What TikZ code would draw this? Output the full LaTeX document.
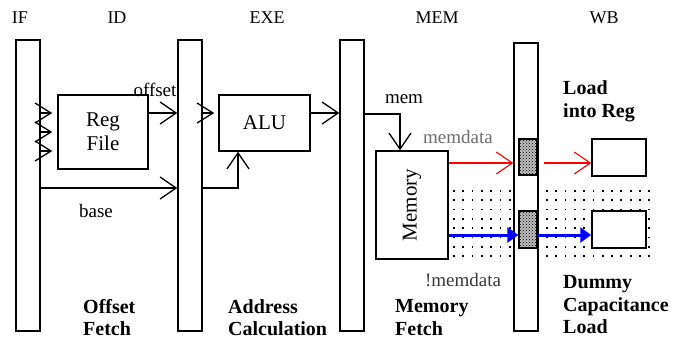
\documentclass[tikz,border=0pt]{standalone}
\usepackage{fontspec}
\setmainfont{Liberation Serif}
\usepackage{tikz}
\usetikzlibrary{arrows.meta,patterns}
\definecolor{cLine}{HTML}{000000}
\definecolor{cRed}{HTML}{FF0000}
\definecolor{cBlue}{HTML}{0000FF}
\definecolor{cMemd}{HTML}{6E6E6E}
\definecolor{cNmemd}{HTML}{3A3A3A}
\newcommand{\headfont}{\fontsize{18}{20}\selectfont}
\newcommand{\boxfont}{\fontsize{21}{24}\selectfont}
\newcommand{\lblfont}{\fontsize{19}{21}\selectfont}
\newcommand{\capfont}{\fontsize{20}{22.5}\selectfont\bfseries}
\tikzset{
  latch/.style={draw=cLine, line width=1.5pt, fill=white, minimum width=24pt,
                inner sep=0pt},
  unit/.style={draw=cLine, line width=1.5pt, fill=white, inner sep=0pt,
               font=\boxfont, align=center},
  tap/.style={draw=cLine, line width=1.2pt, fill=black!25, minimum width=18pt,
              inner sep=0pt, postaction={pattern=crosshatch dots}},
  head/.style={font=\headfont, inner sep=0pt},
  lbl/.style={font=\lblfont, inner sep=0pt},
  stagecap/.style={font=\capfont, inner sep=0pt, align=left, anchor=west},
  arr/.style={-{Straight Barb[length=16pt,width=22pt]}, line width=1.3pt, cLine},
  inarr/.style={-{Straight Barb[length=16pt,width=20pt]}, line width=1.3pt, cLine},
  redarr/.style={-{Straight Barb[length=16pt,width=22pt]}, line width=1.1pt, cRed},
  bluearr/.style={-{Triangle[length=11pt,width=15pt]}, line width=3pt, cBlue}
}

\begin{document}
\begin{tikzpicture}[x=1pt,y=-1pt]
\useasboundingbox (0,0) rectangle (694,343);
% ----- dotted load region -----
\foreach \x in {453,462.3,...,657} \foreach \y in {190,199.3,...,258}
  \fill (\x,\y) rectangle ++(1.8,1.8);
% ----- stage headings -----
\node[head] (hif) at (20,18) {IF};
\node[head] (hid) at (117,18) {ID};
\node[head] (hexe) at (267,18) {EXE};
\node[head] (hmem) at (437,18) {MEM};
\node[head] (hwb) at (604,18) {WB};
% ----- pipeline latches -----
\node[latch, minimum height=291pt] (lif) at (28,185.5) {};
\node[latch, minimum height=291pt] (lid) at (190,185.5) {};
\node[latch, minimum height=291pt] (lexe) at (352,185.5) {};
\node[latch, minimum height=288pt] (lwb) at (526,187) {};
% ----- units -----
\node[unit, minimum width=90pt, minimum height=74pt] (regf) at (103,132) {Reg\\File};
\node[unit, minimum width=91pt, minimum height=56pt] (alu) at (264.5,123) {ALU};
\node[unit, minimum width=72pt, minimum height=108pt] (memu) at (412,205)
  {\rotatebox{90}{Memory}};
\node[tap, minimum height=36pt] (tap1) at (528,157) {};
\node[tap, minimum height=37pt] (tap2) at (528,229.5) {};
\node[unit, minimum width=54pt, minimum height=37pt] (reg1) at (619,157.5) {};
\node[unit, minimum width=54pt, minimum height=37pt] (reg2) at (619,229.5) {};
% ----- ID / EXE -----
\foreach \y in {113,132,151}
  \draw[inarr, shorten >=5pt] (lif.east |- 0,\y) -- (regf.west |- 0,\y);
\draw[arr] (regf.east |- 0,113) -- (lid.west |- 0,113);
\node[lbl] (loff) at (155,90) {offset};
\draw[arr] (lif.east |- 0,188) -- (lid.west |- 0,188);
\node[lbl] (lbase) at (96,211) {base};
\draw[inarr, shorten >=4pt] (lid.east |- 0,113) -- (alu.west |- 0,113);
\draw[arr] (lid.east |- 0,188) -| ([xshift=-26.5pt]alu.south);
\draw[arr] (alu.east |- 0,113) -- (lexe.west |- 0,113);
% ----- MEM / WB -----
\draw[arr] (lexe.east |- 0,114) -| ([xshift=-12pt]memu.north);
\node[lbl] (lmem) at (404,99) {mem};
\node[lbl, text=cMemd] (lmd) at (458,137) {memdata};
\draw[redarr] (memu.east |- 0,163) -- (lwb.west |- 0,163);
\draw[redarr] ([xshift=5pt]lwb.east |- 0,163) -- (reg1.west |- 0,163);
\draw[bluearr] (memu.east |- 0,235) -- (tap2.west |- 0,235);
\draw[bluearr] (tap2.east |- 0,235) -- (reg2.west |- 0,235);
\node[lbl, text=cNmemd] (lnmd) at (463,280) {!memdata};
% ----- stage captions -----
\node[stagecap] (cof) at (83,317.5) {Offset\\Fetch};
\node[stagecap] (cac) at (228,317.5) {Address\\Calculation};
\node[stagecap] (cmf) at (395,317.5) {Memory\\Fetch};
\node[stagecap] (clr) at (563,101.5) {Load\\into Reg};
\node[stagecap] (cdl) at (563,305) {Dummy\\Capacitance\\Load};
\end{tikzpicture}
\end{document}
